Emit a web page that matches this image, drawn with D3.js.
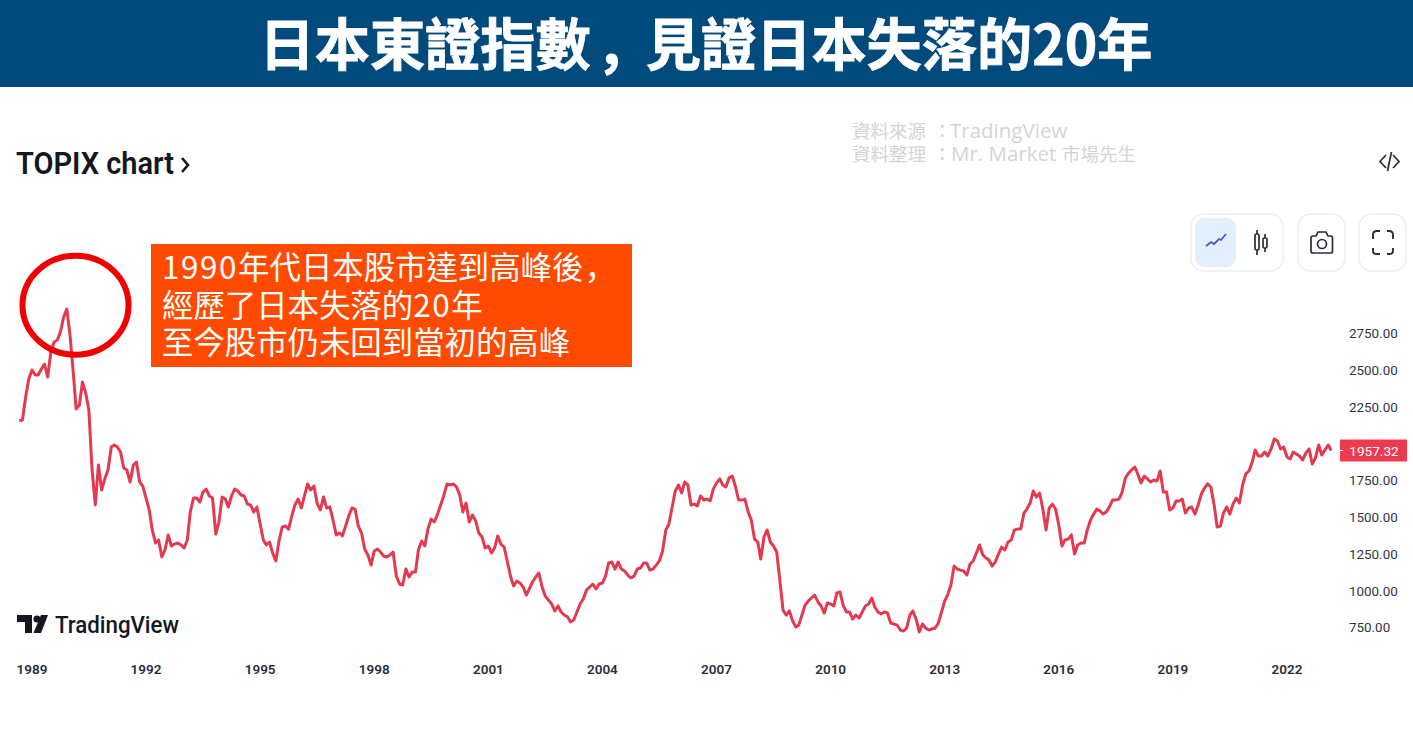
<!DOCTYPE html>
<html lang="zh-Hant"><head><meta charset="utf-8">
<style>html,body{margin:0;padding:0;background:#fff;overflow:hidden}svg{display:block}</style>
<script src="https://cdn.jsdelivr.net/npm/d3@7"></script></head>
<body><svg id="c" width="1413" height="740"></svg>
<script>
const titleText = "日本東證指數，見證日本失落的20年";
const sourceLine1 = ["資料來源：", "TradingView"];
const sourceLine2 = ["資料整理：", "Mr. Market", "市場先生"];
const calloutLines = ["1990年代日本股市達到高峰後，", "經歷了日本失落的20年", "至今股市仍未回到當初的高峰"];
const chartName = "TOPIX chart";
const priceTicks = [750,1000,1250,1500,1750,2250,2500,2750];
const yearTicks = [1989,1992,1995,1998,2001,2004,2007,2010,2013,2016,2019,2022];
const seriesStart = [1988, 8]; // Sep 1988, monthly
const closes = [
2160,2165,2321,2444,2505,2471,2471,2512,2546,2457,2628,2696,2709,2764,2866,2920,2743,2491,2240,2267,
2423,2349,2233,1825,1587,1859,1689,1764,1825,1981,1995,1981,1947,1838,1825,1743,1859,1879,1743,1716,
1634,1553,1417,1328,1349,1233,1281,1383,1308,1321,1328,1315,1294,1349,1539,1634,1634,1607,1675,1695,
1648,1634,1389,1471,1641,1627,1573,1648,1695,1682,1655,1648,1593,1587,1539,1573,1457,1349,1315,1335,
1260,1206,1342,1437,1444,1423,1512,1587,1627,1566,1648,1730,1689,1716,1600,1553,1641,1566,1573,1485,
1383,1396,1376,1444,1512,1566,1559,1444,1396,1287,1247,1178,1274,1287,1267,1240,1233,1247,1267,1104,
1049,1042,1151,1097,1131,1131,1281,1342,1308,1423,1491,1471,1525,1587,1655,1730,1723,1730,1709,1655,
1539,1600,1471,1519,1478,1396,1369,1294,1308,1260,1294,1376,1321,1301,1206,1104,1036,1070,1056,1029,
974,1022,1063,1097,1124,1029,968,940,913,866,900,859,838,825,791,804,859,913,947,1008,
1029,1049,1015,1049,1056,1104,1192,1199,1151,1199,1151,1138,1110,1090,1104,1151,1158,1192,1192,1144,
1151,1178,1206,1274,1417,1457,1573,1682,1723,1668,1743,1723,1587,1593,1580,1648,1621,1627,1614,1695,
1736,1764,1723,1709,1770,1784,1716,1621,1621,1627,1539,1485,1355,1335,1219,1369,1417,1335,1308,1267,
1070,872,838,866,798,757,770,838,906,934,954,974,927,900,852,920,913,900,988,995,
906,859,859,811,838,818,859,900,913,954,893,859,845,859,852,784,777,770,736,729,
750,838,866,811,723,777,750,736,743,750,784,859,934,981,1042,1172,1151,1144,1138,1110,
1185,1206,1260,1315,1247,1226,1212,1172,1199,1253,1301,1281,1335,1349,1417,1423,1423,1532,1559,1600,
1682,1641,1668,1559,1417,1566,1593,1559,1451,1308,1349,1355,1383,1253,1315,1328,1328,1417,1485,1525,
1559,1546,1525,1539,1573,1621,1621,1627,1675,1770,1804,1825,1845,1791,1736,1784,1764,1743,1757,1750,
1818,1675,1675,1553,1566,1614,1614,1627,1532,1566,1573,1525,1587,1661,1702,1730,1709,1587,1437,1444,
1532,1573,1525,1593,1634,1600,1723,1798,1818,1879,1961,1920,1920,1947,1920,1968,2036,2022,1968,1981,
1913,1900,1947,1934,1920,1893,1940,1968,1866,1906,1995,1927,1961,1995,1957.32];

const svg = d3.select("#c");
const x = d3.scaleTime().domain([new Date(1989,0,1), new Date(2022,0,1)]).range([32,1287]);
const y = d3.scaleLinear().domain([750,2750]).range([628,334]);
const points = closes.map((v,i)=>({d:new Date(seriesStart[0], seriesStart[1]+i, 1), v}));
const cjk = "'Noto Sans CJK TC','Noto Sans',sans-serif";

// Writes a string into a text element, lowering the full-width comma the way the reference sets it
function setRuns(el, str, commaDx, commaDy, digitGap){
  str.split(/(，|\d+)/).filter(s=>s).forEach(s=>{
    const t = el.append("tspan").text(s);
    if(s==="，") t.attr("dx",commaDx).attr("dy",commaDy);
    else if(/^\d+$/.test(s) && digitGap) t.attr("letter-spacing",digitGap);
  });
  el.selectAll("tspan").each(function(d,i,n){
    if(i>0 && n[i-1].textContent==="，") d3.select(this).attr("dx",-commaDx).attr("dy",-commaDy);
  });
}

// Header band
svg.append("rect").attr("width",1413).attr("height",87).attr("fill","#004a7c");
const title = svg.append("text").attr("x",706).attr("y",65).attr("text-anchor","middle")
  .attr("font-family",cjk).attr("font-weight",700).attr("font-size",55.2).attr("fill","#fff")
  .attr("stroke","#fff").attr("stroke-width",0.8);
setRuns(title, titleText, -7, 19, 0);

// Chart name
svg.append("text").attr("x",16).attr("y",174).attr("font-family","Roboto,sans-serif")
  .attr("font-weight",600).attr("font-size",31).attr("fill","#131722")
  .attr("textLength",158).attr("lengthAdjust","spacingAndGlyphs").text(chartName);
svg.append("path").attr("d","M182 158 L188 165 L182 172").attr("fill","none").attr("stroke","#131722").attr("stroke-width",2.6);

// Source note
const srcGrey = "#d4d4d4", latin = "'Open Sans',sans-serif";
const s1 = svg.append("text").attr("y",138).attr("fill",srcGrey).attr("font-family",cjk).attr("font-size",18.5);
s1.append("tspan").attr("x",852).text(sourceLine1[0].slice(0,4));
s1.append("tspan").attr("x",933).text(sourceLine1[0].slice(4));
s1.append("tspan").attr("x",950).attr("font-family",latin).attr("font-size",20.5).text(sourceLine1[1]);
const s2 = svg.append("text").attr("y",161).attr("fill",srcGrey).attr("font-family",cjk).attr("font-size",18.5);
s2.append("tspan").attr("x",852).text(sourceLine2[0].slice(0,4));
s2.append("tspan").attr("x",933).text(sourceLine2[0].slice(4));
s2.append("tspan").attr("x",951).attr("font-family",latin).attr("font-size",20.5).text(sourceLine2[1]);
s2.append("tspan").attr("x",1062).text(sourceLine2[2]);

// Embed icon
svg.append("path").attr("d","M1386 155 L1380 161.5 L1386 168 M1393 155 L1399 161.5 L1393 168 M1391.5 152 L1387.5 171")
  .attr("fill","none").attr("stroke","#2a2e39").attr("stroke-width",1.7);

// Toolbar
const btn = svg.append("g").attr("fill","#fff").attr("stroke","#eceef2").attr("stroke-width",1.5);
btn.append("rect").attr("x",1191).attr("y",214).attr("width",92).attr("height",57).attr("rx",13);
btn.append("rect").attr("x",1298).attr("y",214).attr("width",47).attr("height",57).attr("rx",13);
btn.append("rect").attr("x",1359).attr("y",214).attr("width",47).attr("height",57).attr("rx",13);
svg.append("rect").attr("x",1195).attr("y",218).attr("width",41).attr("height",49).attr("rx",9).attr("fill","#e3effd");
svg.append("path").attr("d","M1206 246 L1211 242 L1214 244 L1219 239 L1221 240 L1226 234")
  .attr("fill","none").attr("stroke","#3d5fc4").attr("stroke-width",1.8);
const ic = svg.append("g").attr("fill","none").attr("stroke","#2a2e39").attr("stroke-width",1.7);
ic.append("rect").attr("x",1255).attr("y",234).attr("width",4).attr("height",16).attr("rx",1.5);
ic.append("path").attr("d","M1257 230 V234 M1257 250 V255 M1265 234 V238 M1265 248 V252");
ic.append("rect").attr("x",1263).attr("y",238).attr("width",4).attr("height",10).attr("rx",1.5);
ic.append("path").attr("d","M1313 236 H1316 L1318 232 H1326 L1328 236 H1331 Q1332.5 236 1332.5 238 V251 Q1332.5 253 1331 253 H1313 Q1311 253 1311 251 V238 Q1311 236 1313 236 Z");
ic.append("circle").attr("cx",1322).attr("cy",244).attr("r",4.5);
ic.append("path").attr("d","M1373 239 V235 Q1373 231 1377 231 H1380 M1387 231 H1389 Q1393 231 1393 235 V239 M1393 248 V251 Q1393 254 1389 254 H1387 M1380 254 H1377 Q1373 254 1373 251 V248").attr("stroke-width",1.9);

// Price axis
const yAxis = d3.axisRight(y).tickValues(priceTicks).tickSize(0).tickPadding(0).tickFormat(d3.format(".2f"));
const gy = svg.append("g").attr("transform","translate(1349,-0.5)").call(yAxis);
gy.select(".domain").remove();
gy.selectAll("text").attr("font-family","Roboto,sans-serif").attr("font-size",13.4).attr("fill","#333640");

// Time axis
const xAxis = d3.axisBottom(x).tickValues(yearTicks.map(t=>new Date(t,0,1))).tickSize(0).tickPadding(0).tickFormat(d3.timeFormat("%Y"));
const gx = svg.append("g").attr("transform","translate(-0.5,664.5)").call(xAxis);
gx.select(".domain").remove();
gx.selectAll("text").attr("font-family","Roboto,sans-serif").attr("font-weight",600).attr("font-size",13.5).attr("fill","#2a2e39");

// Line
const line = d3.line().x(d=>x(d.d)).y(d=>y(d.v)).curve(d3.curveLinear);
svg.append("path").datum(points).attr("d",line).attr("fill","none").attr("stroke","#e43a50")
  .attr("stroke-width",3).attr("stroke-linejoin","round");

// Last price tag
const last = closes[closes.length-1];
svg.append("rect").attr("x",1340).attr("y",y(last)-11).attr("width",67).attr("height",22).attr("fill","#ee3a4f");
svg.append("rect").attr("x",1340).attr("y",y(last)-0.5).attr("width",3).attr("height",1).attr("fill","#fff");
svg.append("text").attr("x",1374).attr("y",y(last)+5).attr("text-anchor","middle")
  .attr("font-family","Roboto,sans-serif").attr("font-size",13.6).attr("fill","#fff").text(last.toFixed(2));

// TradingView logo
const logo = svg.append("g").attr("fill","#131722");
logo.append("path").attr("d","M17 615 H32 V633 H25 V622 H17 Z");
logo.append("circle").attr("cx",37).attr("cy",619).attr("r",3.6);
logo.append("path").attr("d","M41 615 H48 L41 633 H33.5 Z");
svg.append("text").attr("x",55).attr("y",633).attr("font-family","Roboto,sans-serif").attr("font-weight",500)
  .attr("font-size",24).attr("fill","#131722").attr("textLength",124).attr("lengthAdjust","spacingAndGlyphs").text("TradingView");

// Callout
svg.append("rect").attr("x",151).attr("y",244).attr("width",481).attr("height",123).attr("fill","#ff4a00");
calloutLines.forEach((t,i)=>{
  const el = svg.append("text").attr("x",162).attr("y",279+i*37.7)
    .attr("font-family",cjk).attr("font-size",31.4).attr("fill","#fff");
  setRuns(el, t, -7, 10, 1.6);
});

// Peak circle
svg.append("ellipse").attr("cx",75.5).attr("cy",305.2).attr("rx",53).attr("ry",49.5)
  .attr("fill","none").attr("stroke","#f00000").attr("stroke-width",6);
</script></body></html>
